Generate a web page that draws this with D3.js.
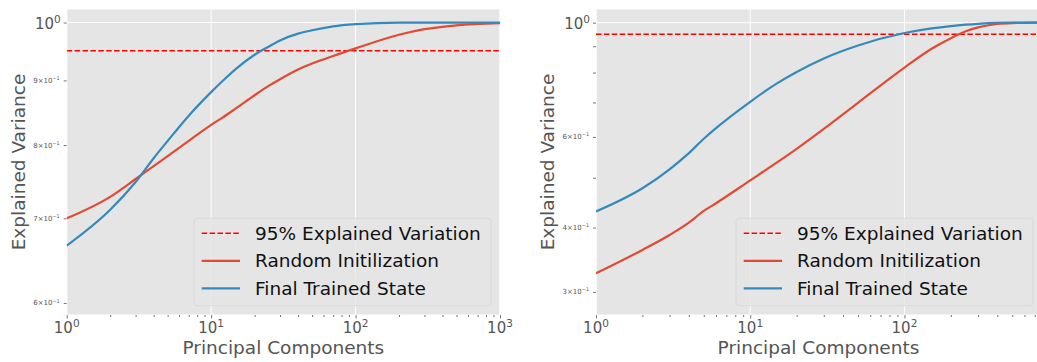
<!DOCTYPE html>
<html>
<head>
<meta charset="utf-8">
<script src="https://cdn.jsdelivr.net/npm/d3@7"></script>
<style>
  body { margin: 0; background: #fff; }
  svg { display: block; font-family: "DejaVu Sans", sans-serif; }
</style>
</head>
<body>
<div id="chart"></div>
<script>
//values
const leftComponents = [1, 2, 3, 4, 5, 7, 10, 12, 15, 20, 25, 30, 40, 50, 70, 100, 200, 300, 500, 1000];
const leftRandom = [0.700, 0.728, 0.752, 0.770, 0.784, 0.806, 0.830, 0.841, 0.856, 0.876, 0.891, 0.902, 0.918, 0.928, 0.941, 0.954, 0.978, 0.988, 0.995, 0.999];
const leftTrained = [0.666, 0.711, 0.748, 0.781, 0.806, 0.844, 0.881, 0.899, 0.920, 0.943, 0.957, 0.968, 0.980, 0.986, 0.993, 0.997, 1.0, 1.0, 1.0, 1.0];

const rightComponents = [1, 2, 3, 4, 5, 6, 10, 15, 20, 30, 50, 100, 150, 200, 250, 300, 400, 500, 768];
const rightRandom = [0.326, 0.362, 0.387, 0.409, 0.431, 0.446, 0.494, 0.536, 0.569, 0.622, 0.699, 0.818, 0.890, 0.933, 0.962, 0.979, 0.994, 0.998, 1.0];
const rightTrained = [0.430, 0.477, 0.519, 0.558, 0.595, 0.624, 0.702, 0.763, 0.802, 0.852, 0.903, 0.955, 0.975, 0.985, 0.991, 0.995, 0.999, 1.0, 1.0];

const threshold = 0.95;
const legendLabels = ["95% Explained Variation", "Random Initilization", "Final Trained State"];
const leftYLabelTicks = [0.6, 0.7, 0.8, 0.9];
const rightYLabelTicks = [0.3, 0.4, 0.6];

//ggplot-ish colours
const red = "#E24A33";
const blue = "#348ABD";
const tickColor = "#555555";

const width = 1037;
const height = 362;
const plotTop = 9;
const plotBottom = 315;

const svg = d3.select("#chart").append("svg")
    .attr("width", width)
    .attr("height", height)
    .attr("viewBox", [0, 0, width, height]);

//write 10^e or m x 10^e with a raised exponent
function sciLabel(text, v, size) {
    const e = Math.floor(Math.log10(v) + 1e-9);
    const m = Math.round(v / Math.pow(10, e));
    text.append("tspan").text(m === 1 ? "10" : m + "\u00d710");
    text.append("tspan")
        .attr("dy", -size * 0.42)
        .attr("font-size", size * 0.7)
        .text(e < 0 ? "\u2212" + (-e) : e);
}

function drawPanel(id, cfg) {
    const x = d3.scaleLog(cfg.xDomain, cfg.xRange);
    const y = d3.scaleLog(cfg.yDomain, [plotBottom, plotTop]);
    const left = cfg.xRange[0];
    const right = cfg.xRange[1];

    const g = svg.append("g");

    g.append("clipPath").attr("id", "clip-" + id)
        .append("rect")
        .attr("x", left).attr("y", plotTop)
        .attr("width", right - left).attr("height", plotBottom - plotTop);

    //background
    g.append("rect")
        .attr("x", left).attr("y", plotTop)
        .attr("width", right - left).attr("height", plotBottom - plotTop)
        .attr("fill", "#E5E5E5");

    const xMajor = x.ticks().filter(v => Math.abs(Math.log10(v) % 1) < 1e-9);
    const yMajor = y.ticks().filter(v => Math.abs(Math.log10(v) % 1) < 1e-9);

    //grid on major ticks
    g.append("g").attr("stroke", "#fff").attr("stroke-width", 1)
        .selectAll("line").data(xMajor).join("line")
        .attr("x1", d => x(d)).attr("x2", d => x(d))
        .attr("y1", plotTop).attr("y2", plotBottom);
    g.append("g").attr("stroke", "#fff").attr("stroke-width", 1)
        .selectAll("line").data(yMajor).join("line")
        .attr("x1", left).attr("x2", right)
        .attr("y1", d => y(d)).attr("y2", d => y(d));

    //white frame
    g.append("rect")
        .attr("x", left).attr("y", plotTop)
        .attr("width", right - left).attr("height", plotBottom - plotTop)
        .attr("fill", "none").attr("stroke", "#fff").attr("stroke-width", 1);

    //x ticks: minor and major
    const xAxisMinor = g.append("g")
        .attr("transform", `translate(0,${plotBottom})`)
        .call(d3.axisBottom(x).tickValues(x.ticks().filter(v => !xMajor.includes(v)))
            .tickSize(2).tickFormat(""));
    const xAxisMajor = g.append("g")
        .attr("transform", `translate(0,${plotBottom})`)
        .call(d3.axisBottom(x).tickValues(xMajor).tickSize(3.5).tickFormat(""));
    [xAxisMinor, xAxisMajor].forEach(a => {
        a.select(".domain").remove();
        a.selectAll("line").attr("stroke", tickColor).attr("stroke-width", 0.8);
    });

    //y ticks
    const yAxis = g.append("g")
        .attr("transform", `translate(${left},0)`)
        .call(d3.axisLeft(y).tickValues(y.ticks()).tickSize(3).tickFormat(""));
    yAxis.select(".domain").remove();
    yAxis.selectAll("line").attr("stroke", tickColor).attr("stroke-width", 0.8);

    //x tick labels
    g.append("g").attr("fill", tickColor).attr("font-size", 15).attr("text-anchor", "middle")
        .selectAll("text").data(xMajor).join("text")
        .attr("x", d => x(d))
        .attr("y", 333.3)
        .each(function (d) { sciLabel(d3.select(this), d, 15); });

    //y tick labels
    g.append("g").attr("fill", tickColor).attr("font-size", 15).attr("text-anchor", "end")
        .selectAll("text").data(yMajor).join("text")
        .attr("x", left - 6)
        .attr("y", d => y(d) + 6.5)
        .each(function (d) { sciLabel(d3.select(this), d, 15); });
    g.append("g").attr("fill", tickColor).attr("font-size", 7).attr("text-anchor", "end")
        .selectAll("text").data(cfg.yLabelTicks).join("text")
        .attr("x", left - 7)
        .attr("y", d => y(d) + 2.5)
        .each(function (d) { sciLabel(d3.select(this), d, 7); });

    //axis titles
    g.append("text")
        .attr("x", (left + right) / 2)
        .attr("y", 354)
        .attr("text-anchor", "middle")
        .attr("font-size", 18.5)
        .attr("fill", tickColor)
        .text("Principal Components");
    g.append("text")
        .attr("transform", `translate(${cfg.yTitleX},${(plotTop + plotBottom) / 2}) rotate(-90)`)
        .attr("text-anchor", "middle")
        .attr("dy", "0.35em")
        .attr("font-size", 18.5)
        .attr("fill", tickColor)
        .text("Explained Variance");

    //lines
    const plot = g.append("g").attr("clip-path", `url(#clip-${id})`);
    plot.append("line")
        .attr("x1", left).attr("x2", right)
        .attr("y1", y(threshold)).attr("y2", y(threshold))
        .attr("stroke", "#ff0000").attr("stroke-width", 1.5)
        .attr("stroke-dasharray", "5.5,2.4");

    const line = d3.line()
        .x(d => x(d[0]))
        .y(d => y(d[1]))
        .curve(d3.curveMonotoneX);

    plot.append("path")
        .datum(d3.zip(cfg.components, cfg.random))
        .attr("fill", "none").attr("stroke", red).attr("stroke-width", 2.2)
        .attr("d", line);
    plot.append("path")
        .datum(d3.zip(cfg.components, cfg.trained))
        .attr("fill", "none").attr("stroke", blue).attr("stroke-width", 2.2)
        .attr("d", line);

    //legend in the lower right
    const legW = 297;
    const legH = 87.4;
    const legX = cfg.legendRight - legW;
    const legY = plotBottom - 9.3 - legH;
    const leg = g.append("g").attr("transform", `translate(${legX},${legY})`);
    leg.append("rect")
        .attr("width", legW).attr("height", legH)
        .attr("rx", 3)
        .attr("fill", "#E5E5E5").attr("fill-opacity", 0.8)
        .attr("stroke", "#d6d6d6").attr("stroke-width", 0.8);

    const items = [
        { label: legendLabels[0], color: "#ff0000", width: 1.5, dash: "5.5,2.4" },
        { label: legendLabels[1], color: red, width: 2.2, dash: null },
        { label: legendLabels[2], color: blue, width: 2.2, dash: null }
    ];
    const row = leg.selectAll("g").data(items).join("g")
        .attr("transform", (d, i) => `translate(0,${15 + i * 27.5})`);
    row.append("line")
        .attr("x1", 7.7).attr("x2", 46)
        .attr("stroke", d => d.color)
        .attr("stroke-width", d => d.width)
        .attr("stroke-dasharray", d => d.dash);
    row.append("text")
        .attr("x", 61)
        .attr("dy", "0.35em")
        .attr("font-size", 18.5)
        .attr("fill", "#111")
        .text(d => d.label);
}

drawPanel("left", {
    xDomain: [1, 1000], xRange: [66.7, 500],
    yDomain: [0.587, 1.025],
    components: leftComponents, random: leftRandom, trained: leftTrained,
    yLabelTicks: leftYLabelTicks,
    yTitleX: 19,
    legendRight: 491
});

drawPanel("right", {
    xDomain: [1, 768], xRange: [596, 1041],
    yDomain: [0.2706, 1.063],
    components: rightComponents, random: rightRandom, trained: rightTrained,
    yLabelTicks: rightYLabelTicks,
    yTitleX: 547.5,
    legendRight: 1033
});
</script>
</body>
</html>
